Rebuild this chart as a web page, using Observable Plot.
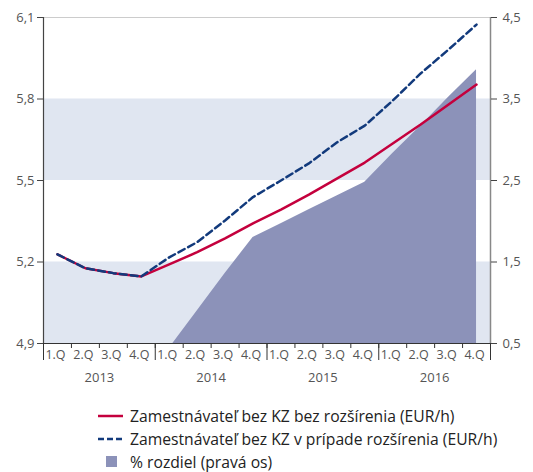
<!DOCTYPE html>
<html>
<head>
<meta charset="utf-8">
<script src="https://cdn.jsdelivr.net/npm/d3@7"></script>
<script src="https://cdn.jsdelivr.net/npm/@observablehq/plot@0.6"></script>
<style>
  body { margin: 0; background: #fff; font-family: "Open Sans", sans-serif; }
  #chart svg { display: block; }
  .legend { margin-top: 12px; padding-left: 98px; font-size: 15.7px; color: #222; }
  .row { height: 23px; display: flex; align-items: center; white-space: nowrap; }
  .sw { width: 25px; margin-right: 7px; display: inline-block; flex: none; }
</style>
</head>
<body>
<div id="chart"></div>
<div class="legend">
  <div class="row"><svg class="sw" width="25" height="4"><line x1="0" x2="25" y1="2" y2="2" stroke="#c4003d" stroke-width="2.5"/></svg>Zamestnávateľ bez KZ bez rozšírenia (EUR/h)</div>
  <div class="row"><svg class="sw" width="25" height="4"><line x1="0" x2="25" y1="2" y2="2" stroke="#123a7c" stroke-width="2.5" stroke-dasharray="6,3"/></svg>Zamestnávateľ bez KZ v prípade rozšírenia (EUR/h)</div>
  <div class="row"><svg class="sw" width="25" height="12"><rect x="8" y="0" width="11" height="11" fill="#8c92b9"/></svg>% rozdiel (pravá os)</div>
</div>
<script>
const years = ["2013", "2014", "2015", "2016"];
const quarterNames = ["1.Q", "2.Q", "3.Q", "4.Q"];
const leftTicks = [4.9, 5.2, 5.5, 5.8, 6.1];
const rightTicks = [0.5, 1.5, 2.5, 3.5, 4.5];
const redSeries = [5.228, 5.177, 5.159, 5.147, 5.191, 5.236, 5.287, 5.342, 5.393, 5.448, 5.507, 5.566, 5.636, 5.706, 5.780, 5.853];
const blueSeries = [5.228, 5.177, 5.159, 5.147, 5.217, 5.273, 5.353, 5.439, 5.500, 5.563, 5.640, 5.702, 5.794, 5.894, 5.982, 6.074];
const diffSeries = [0, 0, 0, 0, 0.44, 0.90, 1.36, 1.80, 1.97, 2.14, 2.31, 2.48, 2.83, 3.17, 3.52, 3.86];

const lMin = leftTicks[0], lMax = leftTicks[leftTicks.length - 1];
const rMin = rightTicks[0], rMax = rightTicks[rightTicks.length - 1];
const toLeft = r => lMin + (r - rMin) * (lMax - lMin) / (rMax - rMin);
const comma = v => d3.format(".1f")(v).replace(".", ",");

const nQ = years.length * quarterNames.length;
const data = d3.range(nQ).map(i => ({
  x: i + 0.5,
  red: redSeries[i],
  blue: blueSeries[i],
  diff: toLeft(diffSeries[i]),
  base: lMin
}));
const bands = [];
for (let i = 0; i + 1 < leftTicks.length; i += 2) bands.push({y1: leftTicks[i], y2: leftTicks[i + 1]});
const boundaries = d3.range(nQ + 1);
const yearBoundaries = boundaries.filter(b => b % quarterNames.length === 0);
const centers = d3.range(nQ).map(i => i + 0.5);
const yearCenters = years.map((y, i) => (i + 0.5) * quarterNames.length);

const chart = Plot.plot({
  width: 533,
  height: 392,
  marginLeft: 43,
  marginRight: 43,
  marginTop: 17,
  marginBottom: 49,
  style: {fontFamily: "Open Sans, sans-serif", color: "#555", background: "#fff"},
  x: {type: "linear", domain: [0, nQ]},
  y: {domain: [lMin, lMax]},
  marks: [
    Plot.rectY(bands, {y1: "y1", y2: "y2", fill: "#e0e6f1"}),
    Plot.ruleY([lMax], {stroke: "#cccccc", strokeWidth: 1.2}),
    Plot.areaY(data, {x: "x", y1: "base", y2: "diff", fill: "#8c92b9", clip: true}),
    Plot.lineY(data, {x: "x", y: "red", stroke: "#c4003d", strokeWidth: 2.5}),
    Plot.lineY(data, {x: "x", y: "blue", stroke: "#123a7c", strokeWidth: 2.5, strokeDasharray: "7,4"}),
    Plot.ruleX([0], {stroke: "#444", strokeWidth: 1.2}),
    Plot.ruleX([nQ], {stroke: "#888", strokeWidth: 1.5}),
    Plot.ruleY([lMin], {stroke: "#333", strokeWidth: 1.2}),
    Plot.axisY(leftTicks, {anchor: "left", tickSize: 6, tickPadding: 3, fontSize: 13, tickFormat: comma, stroke: "#444", label: null}),
    Plot.axisY(rightTicks.map(toLeft), {anchor: "right", tickSize: 6, tickPadding: 6, fontSize: 13, tickFormat: (d, i) => comma(rightTicks[i]), stroke: "#444", label: null}),
    Plot.axisX(boundaries, {anchor: "bottom", tickSize: 5, tickFormat: () => "", stroke: "#333", label: null}),
    Plot.axisX(yearBoundaries, {anchor: "bottom", tickSize: 17, tickFormat: () => "", stroke: "#333", label: null}),
    Plot.axisX(centers, {anchor: "bottom", tickSize: 0, tickPadding: 7, fontSize: 12.5, dx: -2, tickFormat: (d, i) => quarterNames[i % quarterNames.length], label: null}),
    Plot.axisX(yearCenters, {anchor: "bottom", tickSize: 0, tickPadding: 29, fontSize: 13, tickFormat: (d, i) => years[i], label: null})
  ]
});
document.getElementById("chart").appendChild(chart);
</script>
</body>
</html>
